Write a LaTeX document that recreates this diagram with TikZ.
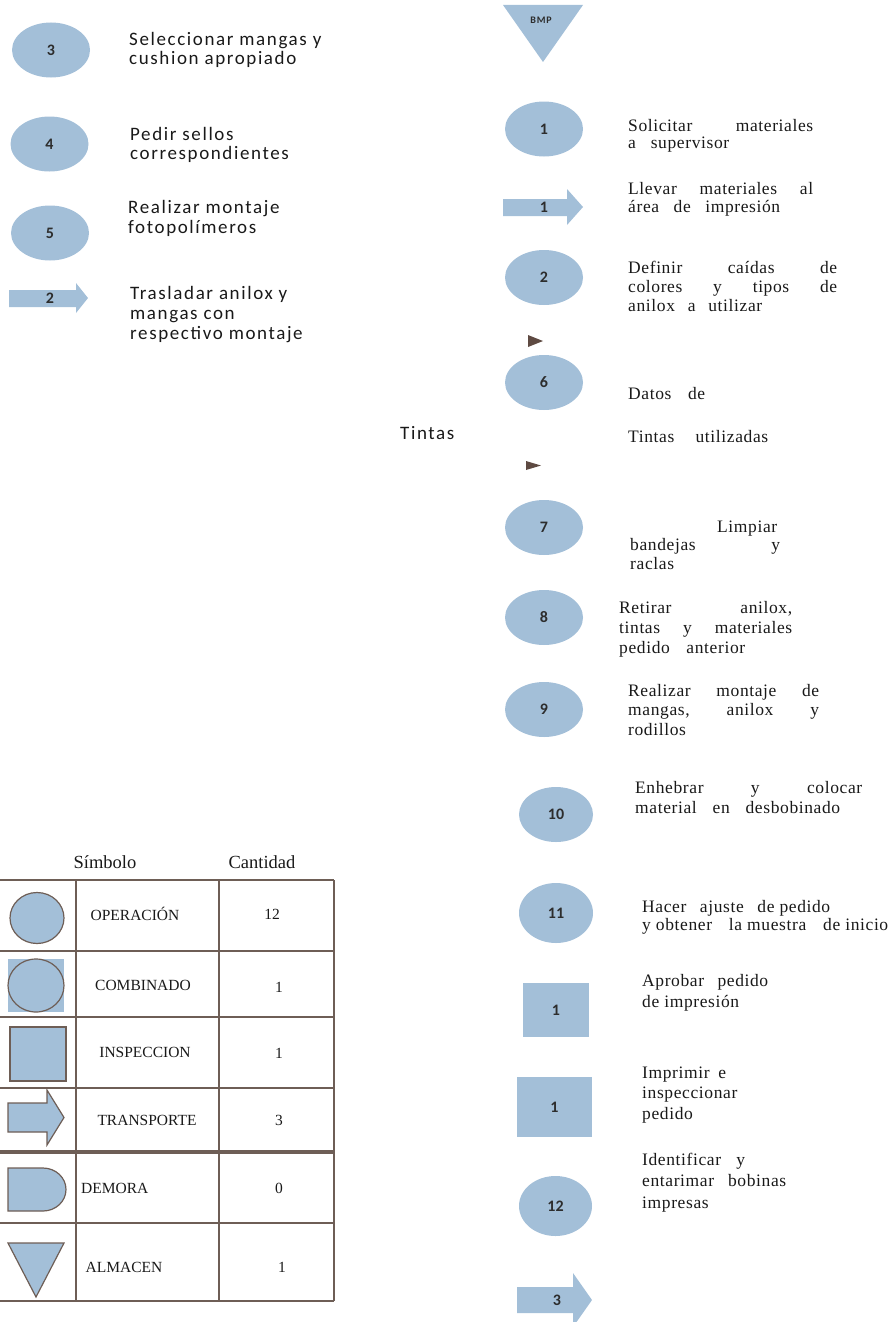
\documentclass[tikz,border=0pt]{standalone}
\usepackage{fontspec}
\usetikzlibrary{shapes.geometric}
\setmainfont{Liberation Serif}
\newfontfamily\descfont[LetterSpace=3.5]{Liberation Serif}
\newfontfamily\notefont[LetterSpace=8.5]{Carlito}
\newfontfamily\numfont{Carlito}
\definecolor{shapefill}{RGB}{163,191,216}
\definecolor{tableline}{RGB}{110,94,86}
\definecolor{markfill}{RGB}{94,74,66}
\definecolor{numink}{RGB}{45,45,45}
\definecolor{textink}{RGB}{25,25,25}
% a line of fixed width, words spread with \hfill
\newcommand\jline[2]{\hbox to #1pt{#2}}

\begin{document}
% multi-line text nodes are placed by the baseline of their last line
\begin{tikzpicture}[x=1pt,y=-1pt,
  opnode/.style={ellipse, fill=shapefill, inner sep=0pt, minimum width=78pt, minimum height=55pt,
    font=\numfont\bfseries\fontsize{16}{16}\selectfont, text=numink},
  numlbl/.style={inner sep=0pt, font=\numfont\bfseries\fontsize{16}{16}\selectfont, text=numink},
  desc/.style={anchor=base west, inner sep=0pt, align=left, text=textink,
    font=\descfont\fontsize{17.5}{#1}\selectfont},
  desc/.default=19,
  note/.style={anchor=base west, inner sep=0pt, align=left, text=textink,
    font=\notefont\fontsize{19}{#1}\selectfont},
  note/.default=20,
  tabhead/.style={inner sep=0pt, text=textink, font=\fontsize{18.5}{18.5}\selectfont},
  tabtext/.style={inner sep=0pt, text=textink, font=\fontsize{15.5}{15.5}\selectfont},
  grid/.style={draw=tableline, line width=2.5pt},
  sym/.style={fill=shapefill, draw=tableline, line width=1.2pt},
  marker/.style={fill=markfill}
]
\useasboundingbox (0,0) rectangle (892,1322);

% ---------- left column: preparation steps ----------
\node[opnode] (op3) at (51,50) {3};
\node[note] (t3) at (129,65) {Seleccionar mangas y\\cushion apropiado};
\node[opnode] (op4) at (49.5,144) {4};
\node[note=19] (t4) at (130,159) {Pedir sellos\\correspondientes};
\node[opnode] (op5) at (50,233) {5};
\node[note] (t5) at (128,233) {Realizar montaje\\fotopolímeros};
\fill[shapefill] (9,290) -- (76,290) -- (76,283) -- (88,298) -- (76,313) -- (76,307) -- (9,307) -- cycle;
\node[numlbl] (tr2) at (50,298) {2};
\node[note] (t6) at (130,339) {Trasladar anilox y\\mangas con\\respectivo montaje};

\node[note] (tintas) at (400,439) {Tintas};

% ---------- right column: printing process ----------
\fill[shapefill] (503,5) -- (583,5) -- (543,62) -- cycle;
\node[inner sep=0pt, text=numink, font=\notefont\bfseries\fontsize{10}{10}\selectfont] (bmp) at (541,20) {BMP};

\node[opnode] (op1) at (544,129) {1};
\node[desc=17] (d1) at (628,148) {\jline{185}{Solicitar\hfill materiales}\\\jline{101}{a\hfill supervisor}};

\fill[shapefill] (503,199) -- (567,199) -- (567,189) -- (583,207) -- (567,225) -- (567,216) -- (503,216) -- cycle;
\node[numlbl] (tr1) at (544,207) {1};
\node[desc=18] (d2) at (628,212) {\jline{185}{Llevar\hfill materiales\hfill al}\\\jline{152}{área\hfill de\hfill impresión}};

\node[opnode] (op2) at (544,277.5) {2};
\node[desc] (d3) at (628,311) {\jline{209}{Definir\hfill caídas\hfill de}\\\jline{209}{colores\hfill y\hfill tipos\hfill de}\\\jline{134}{anilox\hfill a\hfill utilizar}};

\fill[marker] (528,335) -- (543,341) -- (528,347) -- cycle;
\node[opnode] (op6) at (544,382.5) {6};
\node[desc] (d4a) at (628,399) {\jline{77}{Datos\hfill de}};
\node[desc] (d4b) at (628,442) {\jline{140}{Tintas\hfill utilizadas}};
\fill[marker] (526,461) -- (541,465.5) -- (526,470) -- cycle;

\node[opnode] (op7) at (544,527.5) {7};
\node[desc=18.5] (d5) at (630,569) {\jline{147}{\hfill Limpiar}\\\jline{150}{bandejas\hfill y}\\raclas};

\node[opnode] (op8) at (544,617.5) {8};
\node[desc=20] (d6) at (619,653) {\jline{173}{Retirar\hfill anilox,}\\\jline{173}{tintas\hfill y\hfill materiales}\\\jline{126}{pedido\hfill anterior}};

\node[opnode] (op9) at (544,709.5) {9};
\node[desc=19.5] (d7) at (628,735) {\jline{191}{Realizar\hfill montaje\hfill de}\\\jline{191}{mangas,\hfill anilox\hfill y}\\rodillos};

\node[opnode, minimum width=74pt] (op10) at (556,814.5) {10};
\node[desc=20] (d8) at (635,813) {\jline{227}{Enhebrar\hfill y\hfill colocar}\\\jline{205}{material\hfill en\hfill desbobinado}};

\node[opnode, minimum width=74pt, minimum height=60pt] (op11) at (556,913) {11};
\node[desc=18] (d9) at (642,930) {\jline{188}{Hacer\hfill ajuste\hfill de pedido}\\\jline{246}{y obtener\hfill la muestra\hfill de inicio}};

\node[fill=shapefill, inner sep=0pt, minimum width=66pt, minimum height=54pt, numlbl] (in1) at (556,1010) {1};
\node[desc=20.5] (d10) at (642,1007) {\jline{126}{Aprobar\hfill pedido}\\de impresión};

\node[fill=shapefill, inner sep=0pt, minimum width=75pt, minimum height=60pt, numlbl] (in2) at (554.5,1107) {1};
\node[desc=20.5] (d11) at (642,1119) {Imprimir\enspace e\\inspeccionar\\pedido};

\node[opnode, minimum width=73pt, minimum height=60pt] (op12) at (555.5,1206) {12};
\node[desc=21.5] (d12) at (642,1208) {\jline{103}{Identificar\hfill y}\\\jline{144}{entarimar\hfill bobinas}\\impresas};

\fill[shapefill] (517,1287) -- (573,1287) -- (573,1273) -- (592,1300) -- (573,1327) -- (573,1313) -- (517,1313) -- cycle;
\node[numlbl] (tr3) at (557,1300) {3};

% ---------- summary table ----------
\node[tabhead] (hsym) at (105,862) {Símbolo};
\node[tabhead] (hcant) at (262,862) {Cantidad};

\draw[grid] (0,880) -- (334,880);
\draw[grid] (0,951) -- (334,951);
\draw[grid] (0,1017) -- (334,1017);
\draw[grid] (0,1088) -- (334,1088);
\draw[grid, line width=3.5pt] (0,1152) -- (334,1152);
\draw[grid] (0,1223) -- (334,1223);
\draw[grid] (0,1301) -- (334,1301);
\draw[grid] (76,880) -- (76,1301);
\draw[grid] (219,880) -- (219,1301);
\draw[grid] (334,880) -- (334,1301);

% symbols
\draw[sym] (37,918) ellipse [x radius=27, y radius=25.5];
\fill[shapefill] (8,959) rectangle (64,1012);
\draw[sym] (36,985.5) ellipse [x radius=28, y radius=26.5];
\draw[sym] (10,1027) rectangle (66,1081);
\draw[sym] (8,1103) -- (47,1103) -- (47,1090) -- (64,1117.5) -- (47,1145) -- (47,1132) -- (8,1132) -- cycle;
\draw[sym] (8,1168) -- (43,1168) arc[start angle=-90, end angle=90, x radius=23, y radius=21.5] -- (8,1211) -- cycle;
\draw[sym] (8,1243) -- (64,1243) -- (36,1297) -- cycle;

% labels and counts
\node[tabtext] (lop) at (135,914) {OPERACIÓN};
\node[tabtext] (lcomb) at (143,985) {COMBINADO};
\node[tabtext] (lins) at (145,1052) {INSPECCION};
\node[tabtext] (ltra) at (147,1120) {TRANSPORTE};
\node[tabtext, anchor=west] (ldem) at (81,1188) {DEMORA};
\node[tabtext] (lalm) at (124,1267) {ALMACEN};

\node[tabtext] (cop) at (272,914) {12};
\node[tabtext] (ccomb) at (279,987) {1};
\node[tabtext] (cins) at (279,1053) {1};
\node[tabtext] (ctra) at (279,1120) {3};
\node[tabtext] (cdem) at (279,1188) {0};
\node[tabtext] (calm) at (282,1267) {1};
\end{tikzpicture}
\end{document}
